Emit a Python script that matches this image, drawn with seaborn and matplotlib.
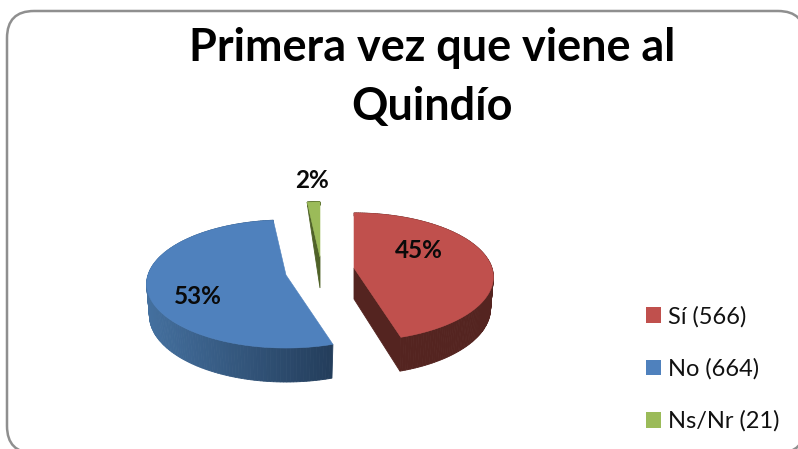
import numpy as np
import matplotlib
matplotlib.use("Agg")
import matplotlib.pyplot as plt
from matplotlib.patches import FancyBboxPatch, Patch
import seaborn as sns

# ---- data ----
categories = ["Sí", "No", "Ns/Nr"]
counts = [566, 664, 21]
pct_labels = ["45%", "53%", "2%"]
title_lines = ["Primera vez que viene al", "Quindío"]

# ---- style ----
top_colors = ["#c0504d", "#4f81bd", "#9bbb59"]
side_left = ["#542420", "#44709f", "#4f6228"]
side_right = ["#542420", "#243e5c", "#4f6228"]
apex_px = [(354, 268), (286, 275), (320, 257)]
label_px = [(419, 250), (198, 297), (312, 181)]
cut_face = [-1, None, 0]   # which cut edge of the wedge faces the camera

RX, RY, PERSP, DEPTH = 138, 62.8, 0.14, 31
START = 90.0

sns.set_theme(style="white")
plt.rcParams["font.family"] = ["Lato", "DejaVu Sans"]

fig = plt.figure(figsize=(7.98, 4.49), dpi=100)
ax = fig.add_axes([0, 0, 1, 1])
ax.set_xlim(0, 798)
ax.set_ylim(449, 0)
ax.axis("off")

ax.add_patch(FancyBboxPatch((7, 11), 798, 442, boxstyle="round,pad=0,rounding_size=27",
                            fc="white", ec="#8f8f8f", lw=1.8, zorder=0))


def top_xy(theta, r, apex):
    t = np.radians(theta)
    u, v = r * np.cos(t), -r * np.sin(t)      # v > 0 : towards the viewer
    w = 1 / (1 - PERSP * v)
    return apex[0] + RX * u * w, apex[1] + RY * v * w, v


def low_xy(theta, r, apex):
    x, y, v = top_xy(theta, r, apex)
    d = DEPTH * (0.1 + 0.9 * (1 + min(v, 0))) + 3 * max(v, 0)
    return apex[0] + (x - apex[0]) * 0.98, y + d


def blend(c1, c2, f):
    a, b = np.array(matplotlib.colors.to_rgb(c1)), np.array(matplotlib.colors.to_rgb(c2))
    return tuple(a + (b - a) * f)


sweeps = 360 * np.array(counts) / np.sum(counts)
starts = START - np.concatenate([[0], np.cumsum(sweeps)[:-1]])

for i, (s0, sw) in enumerate(zip(starts, sweeps)):
    apex = apex_px[i]
    thetas = np.linspace(s0, s0 - sw, 160)
    # outer rim, back to front
    segs = sorted(range(len(thetas) - 1), key=lambda k: top_xy(thetas[k], 1, apex)[1])
    for k in segs:
        a, b = thetas[k], thetas[k + 1]
        xa, ya, _ = top_xy(a, 1, apex)
        xb, yb, _ = top_xy(b, 1, apex)
        xc, yc = low_xy(b, 1, apex)
        xd, yd = low_xy(a, 1, apex)
        f = np.clip(((xa - apex[0]) + RX) / (RX + 45), 0, 1)
        c = blend(side_left[i], side_right[i], f)
        ax.fill([xa, xb, xc, xd], [ya, yb, yc, yd], color=c, lw=0.6, zorder=2 + i)
    # cut face
    if cut_face[i] is not None:
        edge = thetas[cut_face[i]]
        xe, ye, _ = top_xy(edge, 1, apex)
        xl, yl = low_xy(edge, 1, apex)
        xa0, ya0 = low_xy(edge, 0, apex)
        ax.fill([apex[0], xe, xl, xa0], [apex[1], ye, yl, ya0],
                color=side_left[i], lw=0.6, zorder=3 + i)
    # top surface
    pts = [top_xy(t, 1, apex)[:2] for t in thetas]
    xs = [apex[0]] + [p[0] for p in pts]
    ys = [apex[1]] + [p[1] for p in pts]
    ax.fill(xs, ys, color=top_colors[i], lw=0.4, zorder=4 + i)

for (x, y), lab in zip(label_px, pct_labels):
    ax.text(x, y, lab, ha="center", va="center", fontsize=17.5, fontweight="bold",
            color="#0a0a0a", zorder=10)

ax.text(432, 48, title_lines[0], ha="center", va="center", fontsize=32.4,
        fontweight="bold", color="black")
ax.text(432, 107, title_lines[1], ha="center", va="center", fontsize=32.4,
        fontweight="bold", color="black")

handles = [Patch(facecolor=c, edgecolor="none") for c in top_colors]
labels = [f"{c} ({n})" for c, n in zip(categories, counts)]
ax.legend(handles, labels, loc="upper left", bbox_to_anchor=(638.5 / 798, 1 - 299 / 449),
          frameon=False, fontsize=17, handlelength=0.65, handleheight=0.65,
          handletextpad=0.3, labelspacing=1.3, borderpad=0.3, borderaxespad=0,
          labelcolor="#111111")

fig.savefig("out.png", dpi=100, facecolor="white")
